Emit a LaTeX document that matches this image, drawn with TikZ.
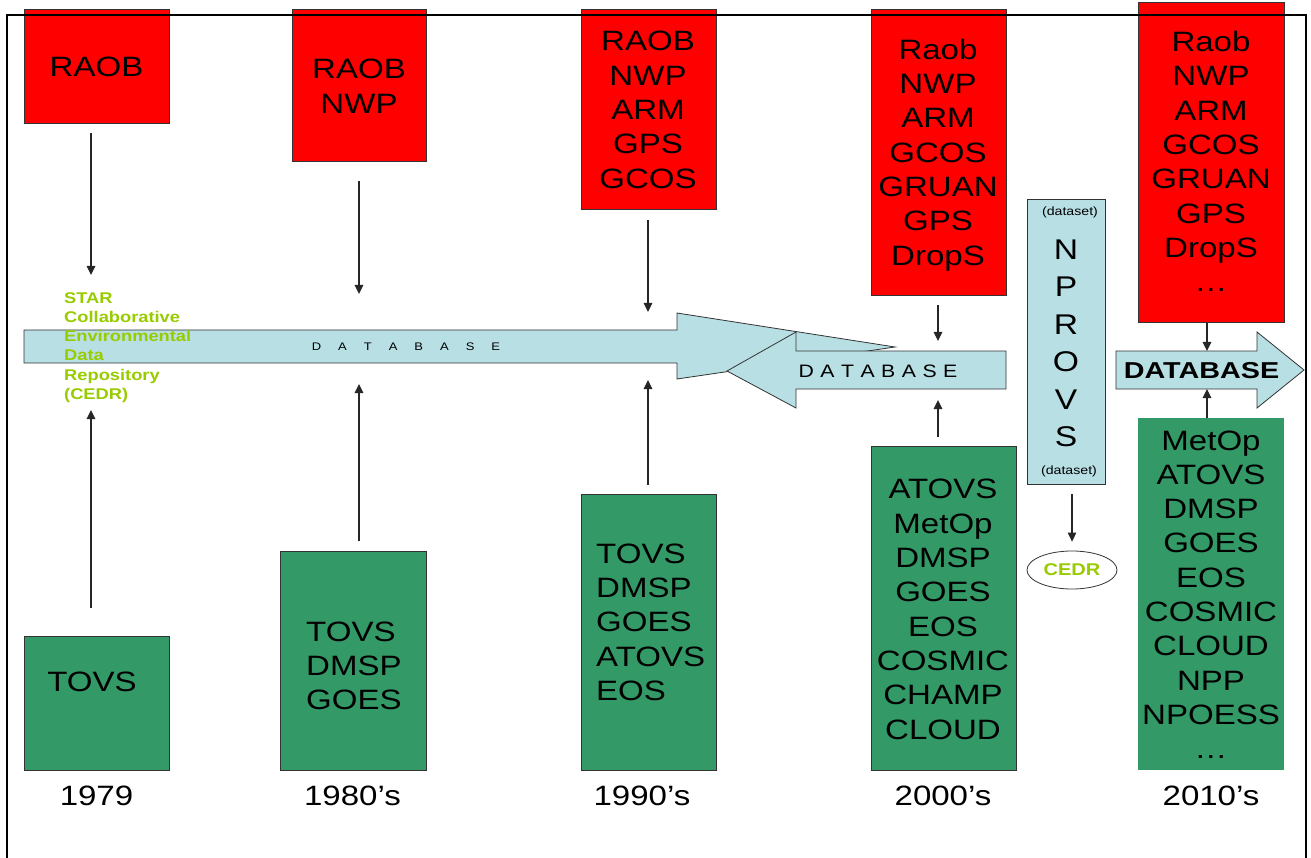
\documentclass[tikz,border=0pt]{standalone}
\usepackage{fontspec}
\setmainfont{Liberation Sans}[FakeStretch=1.18]
\newfontfamily\dbfont{Liberation Sans}[FakeStretch=1.25]
\usetikzlibrary{arrows.meta,shapes.geometric}
\definecolor{boxred}{HTML}{FF0000}
\definecolor{boxgreen}{HTML}{339966}
\definecolor{dbblue}{HTML}{B8DFE4}
\definecolor{cedrgreen}{HTML}{99CC00}
\definecolor{edgegray}{HTML}{333333}
\begin{document}
\begin{tikzpicture}[x=1pt,y=-1pt,
  redbox/.style={draw=edgegray, line width=0.8pt, fill=boxred, inner sep=0pt, anchor=north west},
  greenbox/.style={draw=edgegray, line width=0.8pt, fill=boxgreen, inner sep=0pt, anchor=north west},
  bluebox/.style={draw=edgegray, line width=0.8pt, fill=dbblue, inner sep=0pt, anchor=north west},
  boxtext/.style={font=\fontsize{28}{34.3}\selectfont, align=center, anchor=base, inner sep=0pt},
  lefttext/.style={font=\fontsize{28}{34.3}\selectfont, align=left, anchor=base west, inner sep=0pt},
  yeartext/.style={font=\fontsize{28}{34}\selectfont, anchor=base, inner sep=0pt},
  arr/.style={draw=black!85, line width=1.2pt, -{Triangle[length=9pt,width=8.5pt]}},
  dbarrow/.style={draw=edgegray, line width=0.8pt, fill=dbblue}]
\useasboundingbox (0,0) rectangle (1311,858);
\fill[white] (0,0) rectangle (1311,858);

% database arrows
\draw[dbarrow] (24,330) -- (677,330) -- (677,313) -- (895,347) -- (677,379) -- (677,363) -- (24,363) -- cycle;
\draw[dbarrow] (1006,351) -- (796,351) -- (796,332) -- (727,371) -- (796,408) -- (796,389) -- (1006,389) -- cycle;
\draw[dbarrow] (1116,351) -- (1257,351) -- (1257,332) -- (1304,370) -- (1257,408) -- (1257,389) -- (1116,389) -- cycle;

\node[font=\fontsize{11}{13}\selectfont, anchor=base, inner sep=0pt] (db1) at (406,350.7)
  {D\hspace{17pt}A\hspace{17pt}T\hspace{17pt}A\hspace{17pt}B\hspace{17pt}A\hspace{17pt}S\hspace{17pt}E};
\node[font=\fontsize{18}{20}\selectfont, anchor=base, inner sep=0pt] (db2) at (878,377)
  {D\hspace{6.5pt}A\hspace{6.5pt}T\hspace{6.5pt}A\hspace{6.5pt}B\hspace{6.5pt}A\hspace{6.5pt}S\hspace{6.5pt}E};
\node[font=\dbfont\bfseries\fontsize{23}{25}\selectfont, anchor=base, inner sep=0pt] (db3) at (1201.5,378.3) {DATABASE};

% red boxes
\node[redbox, minimum width=145pt, minimum height=114pt] (r1) at (24,9) {};
\node[redbox, minimum width=134pt, minimum height=152pt] (r2) at (292,9) {};
\node[redbox, minimum width=135pt, minimum height=200pt] (r3) at (581,9) {};
\node[redbox, minimum width=135pt, minimum height=286pt] (r4) at (871,9) {};
\node[redbox, minimum width=146pt, minimum height=320pt] (r5) at (1138,2) {};

% (multi-line nodes: base anchor = baseline of last line)
\node[boxtext] (t1) at (96.5,77) {RAOB};
\node[boxtext] (t2) at (359,113.3) {RAOB\\NWP};
\node[boxtext] (t3) at (648,188.2) {RAOB\\NWP\\ARM\\GPS\\GCOS};
\node[boxtext] (t4) at (938,265.1) {Raob\\NWP\\ARM\\GCOS\\GRUAN\\GPS\\DropS};
\node[boxtext] (t5) at (1211,291.8) {Raob\\NWP\\ARM\\GCOS\\GRUAN\\GPS\\DropS\\…};

% green boxes
\node[greenbox, minimum width=145pt, minimum height=134pt] (g1) at (24,636) {};
\node[greenbox, minimum width=146pt, minimum height=219pt] (g2) at (280,551) {};
\node[greenbox, minimum width=135pt, minimum height=276pt] (g3) at (581,494) {};
\node[greenbox, minimum width=145pt, minimum height=324pt] (g4) at (871,446) {};
\node[greenbox, draw=none, minimum width=146pt, minimum height=352pt] (g5) at (1138,418) {};

\node[boxtext] (u1) at (92,691) {TOVS};
\node[lefttext] (u2) at (306,709.6) {TOVS\\DMSP\\GOES};
\node[lefttext] (u3) at (596,700.5) {TOVS\\DMSP\\GOES\\ATOVS\\EOS};
\node[boxtext] (u4) at (943,739) {ATOVS\\MetOp\\DMSP\\GOES\\EOS\\COSMIC\\CHAMP\\CLOUD};
\node[boxtext] (u5) at (1211,758.7) {MetOp\\ATOVS\\DMSP\\GOES\\EOS\\COSMIC\\CLOUD\\NPP\\NPOESS\\…};

% years
\node[yeartext] (y1) at (96.5,805) {1979};
\node[yeartext] (y2) at (352.5,805) {1980’s};
\node[yeartext] (y3) at (642,805) {1990’s};
\node[yeartext] (y4) at (943,805) {2000’s};
\node[yeartext] (y5) at (1211,805) {2010’s};

% NPROVS
\node[bluebox, minimum width=78pt, minimum height=285pt] (nprovs) at (1027,199) {};
\node[font=\fontsize{12}{14}\selectfont, anchor=base, inner sep=0pt] (ds1) at (1070,215.5) {(dataset)};
\node[font=\fontsize{28.5}{37.5}\selectfont, align=center, anchor=base, inner sep=0pt] (np) at (1066,446.5) {N\\P\\R\\O\\V\\S};
\node[font=\fontsize{12}{14}\selectfont, anchor=base, inner sep=0pt] (ds2) at (1069,474) {(dataset)};

\node[ellipse, draw=edgegray, line width=0.8pt, fill=white, minimum width=90pt, minimum height=38pt, inner sep=0pt,
  font=\bfseries\fontsize{17}{19}\selectfont, text=cedrgreen] (cedr) at (1072,570) {CEDR};

% CEDR label
\node[font=\bfseries\fontsize{15.5}{19.2}\selectfont, text=cedrgreen, align=left, anchor=base west, inner sep=0pt]
  (cedrlbl) at (64,399.3) {STAR\\Collaborative\\Environmental\\Data\\Repository\\(CEDR)};

% connector end points
\coordinate (e1d) at (91,275);  \coordinate (e1u) at (91,410);
\coordinate (e2d) at (359,294); \coordinate (e2u) at (359,384);
\coordinate (e3d) at (648,312); \coordinate (e3u) at (648,380);
\coordinate (e4d) at (938,341); \coordinate (e4u) at (938,400);
\coordinate (e5d) at (1207,351); \coordinate (e5u) at (1207,389);

\draw[arr, shorten <=9pt]  (e1d |- r1.south) -- (e1d);
\draw[arr, shorten <=19pt] (e2d |- r2.south) -- (e2d);
\draw[arr, shorten <=10pt] (e3d |- r3.south) -- (e3d);
\draw[arr, shorten <=9pt]  (e4d |- r4.south) -- (e4d);
\draw[arr] (e5d |- r5.south) -- (e5d);

\draw[arr, shorten <=28pt] (e1u |- g1.north) -- (e1u);
\draw[arr, shorten <=10pt] (e2u |- g2.north) -- (e2u);
\draw[arr, shorten <=9pt]  (e3u |- g3.north) -- (e3u);
\draw[arr, shorten <=9pt]  (e4u |- g4.north) -- (e4u);
\draw[arr] (e5u |- g5.north) -- (e5u);

\draw[arr, shorten <=9pt, shorten >=9pt] (nprovs.south -| cedr.north) -- (cedr.north);

% frame
\draw[line width=1.5pt] (7,858) -- (7,15) -- (1306,15) -- (1306,858);
\end{tikzpicture}
\end{document}
